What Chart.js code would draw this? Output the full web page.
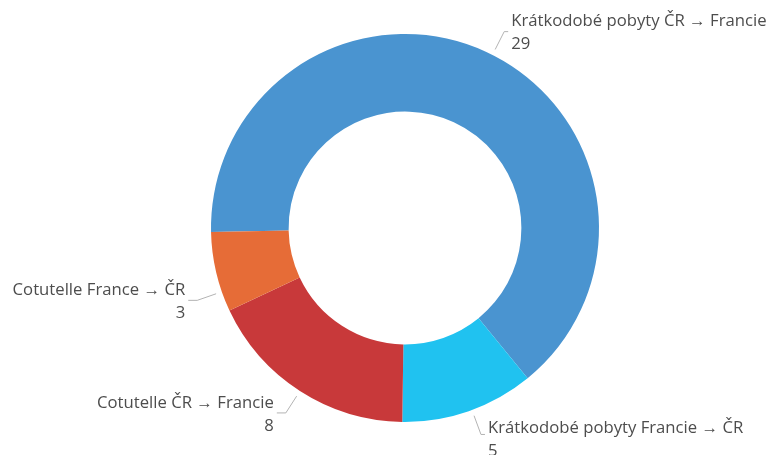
<!DOCTYPE html>
<html>
<head>
<meta charset="utf-8">
<script src="https://cdn.jsdelivr.net/npm/chart.js@4"></script>
<style>
  html, body { margin: 0; padding: 0; background: #fff; }
  #wrap { width: 770px; height: 455px; }
</style>
</head>
<body>
<div id="wrap"><canvas id="graficoPobyty"></canvas></div>
<script>
const kategorie = [
  "Krátkodobé pobyty ČR → Francie",
  "Krátkodobé pobyty Francie → ČR",
  "Cotutelle ČR → Francie",
  "Cotutelle France → ČR"
];
const pocty = [29, 5, 8, 3];
const barvy = ["#4a94d0", "#20c2f0", "#c8393a", "#e66c37"];
// posun popisku (stupne a px svisle), at popisek sedi jako v predloze
const posunPopisku = [2, -1, 0, -6];
const posunTextu = [0, 4, 0, 0];

const popisky = {
  id: "popisky",
  afterDatasetsDraw(chart) {
    const ctx = chart.ctx;
    const meta = chart.getDatasetMeta(0);
    ctx.save();
    ctx.font = "16.7px 'Segoe UI', 'Open Sans', sans-serif";
    ctx.textBaseline = "middle";
    meta.data.forEach((arc, i) => {
      const p = arc.getProps(["x", "y", "startAngle", "endAngle", "outerRadius"], true);
      const a = (p.startAngle + p.endAngle) / 2 + posunPopisku[i] * Math.PI / 180;
      const r1 = p.outerRadius + 6;
      const r2 = p.outerRadius + 26;
      const x1 = p.x + Math.cos(a) * r1, y1 = p.y + Math.sin(a) * r1;
      const x2 = p.x + Math.cos(a) * r2, y2 = p.y + Math.sin(a) * r2;
      const vpravo = Math.cos(a) >= 0;
      const x3 = x2 + (vpravo ? 4 : -9);
      ctx.strokeStyle = "#b3b3b3";
      ctx.lineWidth = 1;
      ctx.beginPath();
      ctx.moveTo(x1, y1);
      ctx.lineTo(x2, y2);
      ctx.lineTo(x3, y2);
      ctx.stroke();
      ctx.fillStyle = "#4d4d4d";
      ctx.textAlign = vpravo ? "left" : "right";
      const tx = x3 + (vpravo ? 3 : -3);
      const ty = y2 + posunTextu[i];
      ctx.fillText(kategorie[i], tx, ty - 10);
      ctx.fillText(String(pocty[i]), tx, ty + 13);
    });
    ctx.restore();
  }
};

new Chart(document.querySelector("#graficoPobyty"), {
  type: "doughnut",
  data: {
    labels: kategorie,
    datasets: [
      {
        data: pocty,
        backgroundColor: barvy,
        borderWidth: 0,
      },
    ],
  },
  options: {
    responsive: true,
    maintainAspectRatio: false,
    animation: false,
    rotation: -91.2,
    cutout: "60%",
    layout: { padding: { left: 211, right: 171, top: 34, bottom: 33 } },
    plugins: {
      legend: { display: false },
      tooltip: { enabled: false },
    },
  },
  plugins: [popisky],
});
</script>
</body>
</html>
